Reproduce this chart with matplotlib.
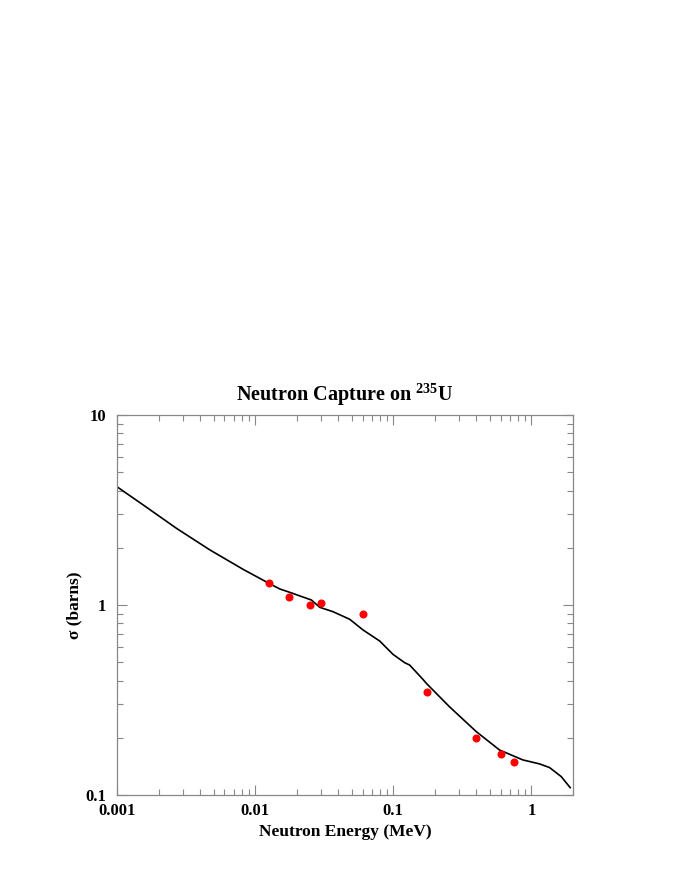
import matplotlib
matplotlib.use("Agg")
import matplotlib.pyplot as plt
from matplotlib.ticker import LogLocator, FixedLocator, FixedFormatter, NullFormatter

plt.rcParams['font.family'] = ['Liberation Serif', 'DejaVu Serif']
plt.rcParams['font.weight'] = 'bold'
plt.rcParams['mathtext.fontset'] = 'custom'
plt.rcParams['mathtext.rm'] = 'Liberation Serif:bold'
plt.rcParams['mathtext.bf'] = 'Liberation Serif:bold'
plt.rcParams['mathtext.default'] = 'bf'

# Evaluated capture cross section curve
curve_energy = [0.001, 0.00155, 0.0027, 0.0047, 0.00819, 0.0126, 0.0151, 0.0178,
                0.02557, 0.02937, 0.03664, 0.04839, 0.0604, 0.0798, 0.0995,
                0.1209, 0.1314, 0.164, 0.1735, 0.2557, 0.399, 0.588, 0.866,
                1.144, 1.352, 1.643, 1.909]
curve_sigma = [4.19, 3.36, 2.53, 1.95, 1.54, 1.30, 1.214, 1.166,
               1.062, 0.9725, 0.922, 0.841, 0.739, 0.646, 0.550,
               0.497, 0.483, 0.406, 0.387, 0.291, 0.2155, 0.1725, 0.153,
               0.1458, 0.1395, 0.125, 0.1093]

# Measured points
data_energy = [0.0125, 0.0175, 0.025, 0.03, 0.06, 0.175, 0.4, 0.6, 0.75]
data_sigma = [1.3, 1.1, 1.0, 1.02, 0.9, 0.35, 0.2, 0.165, 0.15]

x_ticks = [0.001, 0.01, 0.1, 1]
x_tick_labels = ['0.001', '0.01', '0.1', '1']
y_ticks = [0.1, 1, 10]
y_tick_labels = ['0.1', '1', '10']

fig = plt.figure(figsize=(6.92, 8.96), dpi=100)
ax = fig.add_axes([117/692, 1-795/896, (573-117)/692, (795-415)/896])

ax.plot(curve_energy, curve_sigma, color='black', lw=1.2, zorder=2)
ax.plot(data_energy, data_sigma, 'o', color='#ff0000', ms=5.8, mec='none', zorder=3)

ax.set_xscale('log')
ax.set_yscale('log')
ax.set_xlim(0.001, 2.0)
ax.set_ylim(0.1, 10)

ax.xaxis.set_major_locator(FixedLocator(x_ticks))
ax.xaxis.set_major_formatter(FixedFormatter(x_tick_labels))
ax.yaxis.set_major_locator(FixedLocator(y_ticks))
ax.yaxis.set_major_formatter(FixedFormatter(y_tick_labels))
ax.xaxis.set_minor_locator(LogLocator(base=10, subs=range(2, 10)))
ax.yaxis.set_minor_locator(LogLocator(base=10, subs=range(2, 10)))
ax.xaxis.set_minor_formatter(NullFormatter())
ax.yaxis.set_minor_formatter(NullFormatter())

gray = '#888888'
for s in ax.spines.values():
    s.set_color(gray)
    s.set_linewidth(0.9)
ax.tick_params(which='both', direction='in', top=True, right=True, color=gray, width=0.8)
ax.tick_params(which='major', length=7, labelsize=12)
ax.tick_params(which='minor', length=4)
ax.tick_params(axis='y', which='major', pad=8)
ax.tick_params(axis='x', which='major', pad=6)
for lab in ax.get_xticklabels() + ax.get_yticklabels():
    lab.set_fontweight('bold')

ax.set_xlabel('Neutron Energy (MeV)', fontsize=12.5, fontweight='bold', labelpad=3)
ax.set_ylabel('σ (barns)', fontsize=12.5, fontweight='bold', labelpad=2)
ax.set_title(r'Neutron Capture on $^{235}$U', fontsize=14.5, fontweight='bold', pad=10)

fig.savefig('out.png', dpi=100)
